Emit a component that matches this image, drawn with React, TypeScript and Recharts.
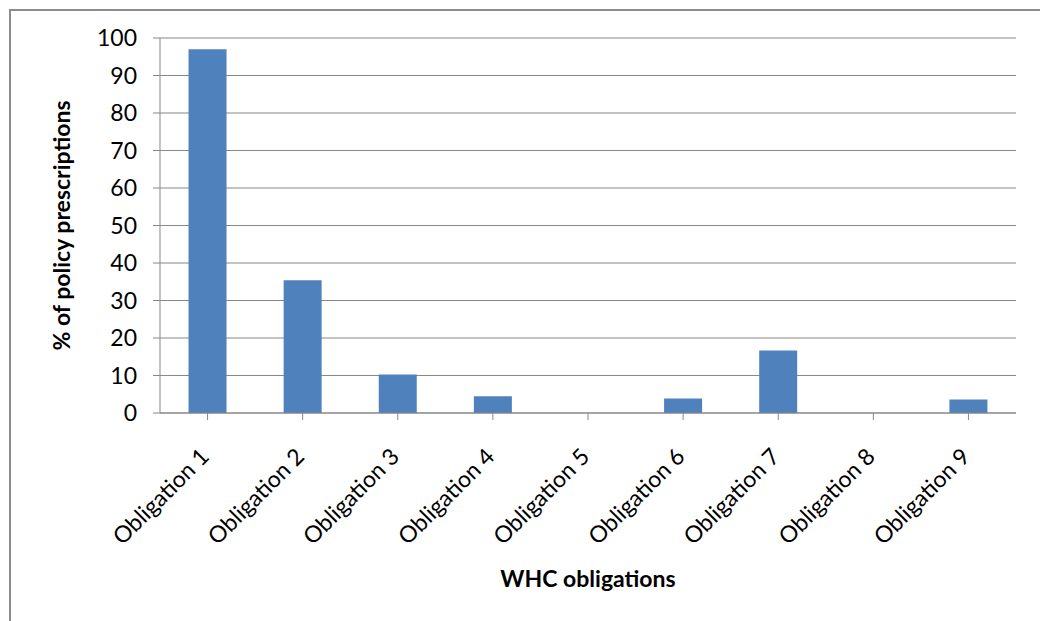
import React from "react";
import { BarChart, Bar, XAxis, YAxis, CartesianGrid, Label } from "recharts";

const categories = [
  "Obligation 1",
  "Obligation 2",
  "Obligation 3",
  "Obligation 4",
  "Obligation 5",
  "Obligation 6",
  "Obligation 7",
  "Obligation 8",
  "Obligation 9",
];
const values = [97, 35.4, 10.3, 4.5, 0, 3.9, 16.7, 0, 3.6];
const yTicks = [0, 10, 20, 30, 40, 50, 60, 70, 80, 90, 100];

const data = categories.map((name, i) => ({ name, value: values[i] }));

const FONT = "Lato, 'Open Sans', sans-serif";
const GRID = "#878787";

const XTick = (props: any) => {
  const { x, y, payload } = props;
  return (
    <g transform={`translate(${x + 3},${y + 36})`}>
      <text
        x={0}
        y={0}
        transform="rotate(-45)"
        textAnchor="end"
        fontFamily={FONT}
        fontSize={23}
        fill="#000"
      >
        {payload.value}
      </text>
    </g>
  );
};

const YTitle = (props: any) => {
  const { viewBox } = props;
  const cy = viewBox.y + viewBox.height / 2;
  const cx = 51;
  return (
    <text
      x={cx}
      y={cy}
      transform={`rotate(-90, ${cx}, ${cy})`}
      textAnchor="middle"
      dy="0.36em"
      fontFamily={FONT}
      fontWeight="bold"
      fontSize={23}
      fill="#000"
    >
      % of policy prescriptions
    </text>
  );
};

const XTitle = (props: any) => {
  const { viewBox } = props;
  const cx = viewBox.x + viewBox.width / 2;
  return (
    <text
      x={cx}
      y={576}
      textAnchor="middle"
      fontFamily={FONT}
      fontWeight="bold"
      fontSize={23}
      fill="#000"
    >
      WHC obligations
    </text>
  );
};

export default function App() {
  return (
    <div
      style={{
        position: "fixed",
        left: 9,
        top: 9,
        width: 1031,
        height: 612,
        borderLeft: "2px solid #8c8c8c",
        borderTop: "2px solid #8c8c8c",
        overflow: "hidden",
        background: "#fff",
      }}
    >
      <BarChart
        width={1029}
        height={610}
        data={data}
        margin={{ top: 27, right: 24, left: 0, bottom: 0 }}
        barCategoryGap="30%"
      >
        <CartesianGrid vertical={false} stroke={GRID} strokeWidth={1} />
        <XAxis
          dataKey="name"
          height={208}
          tick={<XTick />}
          tickLine={{ stroke: GRID }}
          axisLine={{ stroke: GRID }}
          tickSize={7}
          interval={0}
        >
          <Label content={<XTitle />} />
        </XAxis>
        <YAxis
          width={149}
          domain={[0, 100]}
          ticks={yTicks}
          interval={0}
          tickSize={7}
          tickMargin={16}
          tickLine={{ stroke: GRID }}
          axisLine={{ stroke: GRID }}
          tick={{ fontFamily: FONT, fontSize: 23, fill: "#000" }}
        >
          <Label content={<YTitle />} />
        </YAxis>
        <Bar dataKey="value" fill="#4F81BD" isAnimationActive={false} />
      </BarChart>
    </div>
  );
}
